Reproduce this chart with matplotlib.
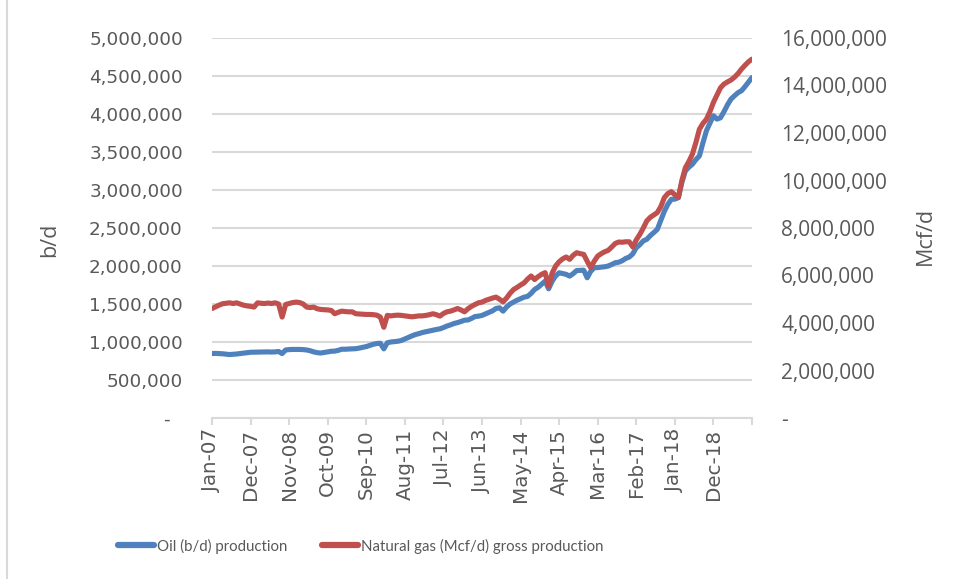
import numpy as np
import pandas as pd
import matplotlib
matplotlib.use("Agg")
import matplotlib.pyplot as plt
from matplotlib.ticker import FuncFormatter

# monthly values, Jan-07 .. Nov-19
oil = [  # thousand b/d
    848, 850, 848, 845, 840, 835, 838, 842, 848, 855, 860, 865,
    866, 868, 868, 870, 870, 868, 870, 875, 848, 895, 900, 902,
    902, 902, 900, 895, 885, 870, 860, 855, 862, 870, 878, 880,
    890, 905, 905, 908, 910, 912, 920, 930, 940, 955, 970, 980,
    984, 910, 990, 1000, 1005, 1010, 1020, 1040, 1060, 1080, 1098, 1110,
    1125, 1135, 1145, 1156, 1165, 1173, 1190, 1210, 1225, 1243, 1255, 1270,
    1287, 1290, 1310, 1335, 1340, 1350, 1370, 1390, 1410, 1441, 1450, 1406,
    1460, 1500, 1525, 1550, 1570, 1590, 1600, 1640, 1691, 1720, 1760, 1801,
    1700, 1800, 1870, 1911, 1900, 1890, 1867, 1900, 1940, 1942, 1945, 1845,
    1930, 1977, 1980, 1985, 1990, 2000, 2020, 2043, 2050, 2070, 2100, 2118,
    2160, 2241, 2280, 2330, 2351, 2400, 2440, 2483, 2600, 2720, 2812, 2878,
    2880, 2900, 3100, 3251, 3300, 3339, 3400, 3449, 3620, 3779, 3880, 3977,
    3933, 3950, 4030, 4120, 4196, 4240, 4280, 4306, 4360, 4420, 4480,
]
gas = [  # million Mcf/d
    4.61, 4.68, 4.75, 4.81, 4.83, 4.85, 4.82, 4.85, 4.80, 4.75, 4.72, 4.70,
    4.67, 4.85, 4.83, 4.82, 4.84, 4.82, 4.85, 4.80, 4.25, 4.78, 4.82, 4.86,
    4.88, 4.86, 4.80, 4.67, 4.65, 4.67, 4.60, 4.57, 4.56, 4.55, 4.53, 4.39,
    4.45, 4.50, 4.48, 4.47, 4.47, 4.39, 4.38, 4.37, 4.36, 4.36, 4.35, 4.33,
    4.25, 3.82, 4.32, 4.30, 4.32, 4.33, 4.32, 4.30, 4.28, 4.26, 4.28, 4.30,
    4.30, 4.32, 4.35, 4.39, 4.35, 4.29, 4.40, 4.47, 4.50, 4.55, 4.61, 4.55,
    4.47, 4.60, 4.70, 4.78, 4.85, 4.88, 4.95, 5.00, 5.05, 5.09, 5.00, 4.89,
    5.05, 5.25, 5.41, 5.50, 5.60, 5.69, 5.85, 5.98, 5.83, 5.95, 6.05, 6.12,
    5.55, 6.10, 6.40, 6.58, 6.70, 6.78, 6.68, 6.85, 6.96, 6.92, 6.89, 6.60,
    6.33, 6.60, 6.82, 6.92, 7.00, 7.06, 7.20, 7.35, 7.41, 7.40, 7.42, 7.42,
    7.20, 7.50, 7.73, 8.00, 8.30, 8.45, 8.55, 8.65, 8.90, 9.28, 9.45, 9.53,
    9.40, 9.28, 10.00, 10.54, 10.80, 11.11, 11.60, 12.16, 12.40, 12.58, 12.90, 13.29,
    13.60, 13.90, 14.06, 14.15, 14.23, 14.35, 14.50, 14.69, 14.85, 15.00, 15.11,
]
months = pd.date_range("2007-01-01", periods=len(oil), freq="MS")
oilLabel = "Oil (b/d) production"
gasLabel = "Natural gas (Mcf/d) gross production"

blue = "#4F81BD"
red = "#C0504D"
grid = "#D9D9D9"
txt = "#595959"

fig = plt.figure(figsize=(9.54, 5.79), dpi=100)
ax = fig.add_axes([212/954, 1 - 418/579, 540/954, 380/579])
ax2 = ax.twinx()

x = np.arange(len(oil))
ax.plot(x, np.array(oil) * 1000, color=blue, linewidth=3.7, solid_capstyle="round",
        solid_joinstyle="round", zorder=3)
ax2.plot(x, np.array(gas) * 1e6, color=red, linewidth=3.7, solid_capstyle="round",
         solid_joinstyle="round", zorder=3)

ax.set_xlim(0, len(oil) - 1)
ax.set_ylim(0, 5_000_000)
ax2.set_ylim(0, 16_000_000)
ax.set_yticks(np.arange(0, 5_000_001, 500_000))
ax2.set_yticks(np.arange(0, 16_000_001, 2_000_000))

def fmt_left(v, pos):
    return "-  " if v == 0 else f"{int(v):,}"

def fmt_right(v, pos):
    return "-" if v == 0 else f"{int(v):,}"

ax.yaxis.set_major_formatter(FuncFormatter(fmt_left))
ax2.yaxis.set_major_formatter(FuncFormatter(fmt_right))

ticks = list(range(0, len(oil), 11))
labels = [months[i].strftime("%b-%y") for i in ticks]
labels[-1] = ""
ax.set_xticks(ticks)
ax.set_xticklabels(labels, rotation=90, fontsize=14.3, color=txt, family="DejaVu Sans")

ax.grid(axis="y", color=grid, linewidth=1.5)
ax.set_axisbelow(True)
for a in (ax, ax2):
    for s in ("top", "left", "right", "bottom"):
        a.spines[s].set_visible(False)
ax.spines["bottom"].set_visible(True)
ax.spines["bottom"].set_color(grid)
ax.spines["bottom"].set_linewidth(1.5)
ax.tick_params(axis="x", direction="out", length=5, width=1.5, color=grid, pad=3)
ax.tick_params(axis="y", length=0, pad=21, labelsize=13.2, labelcolor=txt)
ax2.tick_params(axis="y", length=0, pad=21, labelsize=15, labelcolor=txt)
for t in ax.get_yticklabels():
    t.set_family("DejaVu Sans")
for t in ax2.get_yticklabels():
    t.set_family("Open Sans")

fig.text(50/954, 1 - 240/579, "b/d", rotation=90, ha="center", va="center",
         fontsize=15.5, color=txt, family="Open Sans")
fig.text(925/954, 1 - 236/579, "Mcf/d", rotation=90, ha="center", va="center",
         fontsize=15.5, color=txt, family="Open Sans")

h1, = ax.plot([], [], color=blue, linewidth=4.5, solid_capstyle="round")
h2, = ax.plot([], [], color=red, linewidth=4.5, solid_capstyle="round")
leg = fig.legend([h1, h2], [oilLabel, gasLabel], loc="center", bbox_to_anchor=(361/954, 1 - 546/579),
                 ncol=2, frameon=False, handlelength=2.4, handletextpad=0.2, columnspacing=2.3,
                 prop={"family": "Lato", "size": 10.8})
for t in leg.get_texts():
    t.set_color(txt)

fig.add_artist(plt.Line2D([7/954, 7/954], [0, 1], color=grid, linewidth=1.5, transform=fig.transFigure))

fig.savefig("out.png", dpi=100)
